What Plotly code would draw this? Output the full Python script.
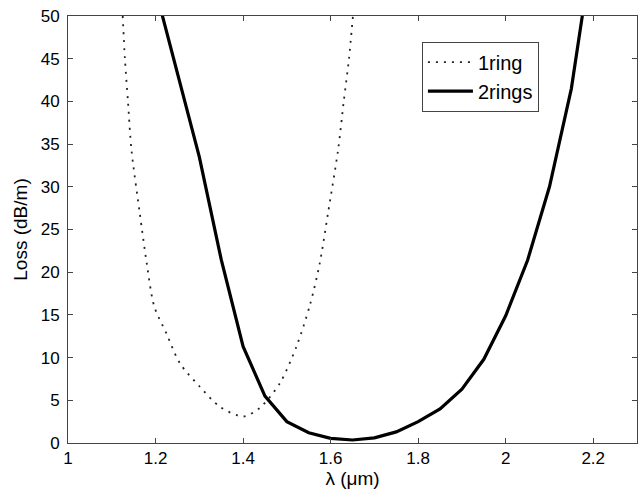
import plotly.graph_objects as go

# 1 ring (dotted)
x_1ring = [1.125, 1.130, 1.137, 1.145, 1.164, 1.180, 1.197, 1.225, 1.256, 1.301,
           1.347, 1.400, 1.438, 1.484, 1.522, 1.553, 1.575, 1.594, 1.617, 1.630,
           1.642, 1.651]
y_1ring = [50, 45, 40, 34.3, 26.9, 21, 16, 12.8, 9.3, 6.6,
           4.25, 3.1, 4.1, 7.0, 11.3, 16.2, 21, 26.9, 34.3, 40,
           45, 50]

# 2 rings (solid)
x_2rings = [1.20, 1.25, 1.30, 1.35, 1.40, 1.45, 1.50, 1.55, 1.60, 1.65, 1.70,
            1.75, 1.80, 1.85, 1.90, 1.95, 2.00, 2.05, 2.10, 2.15, 2.20]
y_2rings = [53.1, 43.3, 33.5, 21.5, 11.3, 5.5, 2.5, 1.2, 0.55, 0.35, 0.6,
            1.3, 2.5, 4.0, 6.3, 9.8, 14.9, 21.4, 30.0, 41.5, 58.5]

x_ticks = [1, 1.2, 1.4, 1.6, 1.8, 2, 2.2]
x_ticklabels = ["1", "1.2", "1.4", "1.6", "1.8", "2", "2.2"]
y_ticks = [0, 5, 10, 15, 20, 25, 30, 35, 40, 45, 50]

FONT = "Liberation Sans, Arial, Helvetica, sans-serif"

fig = go.Figure()
fig.add_trace(go.Scatter(
    x=x_1ring, y=y_1ring, mode="lines", name="1ring",
    line=dict(color="#222222", width=1.8, dash="2px,6px", shape="spline", smoothing=0.8),
))
fig.add_trace(go.Scatter(
    x=x_2rings, y=y_2rings, mode="lines", name="2rings",
    line=dict(color="black", width=3.2),
))

axis_common = dict(
    showgrid=False, zeroline=False, showline=True, linecolor="#444444", linewidth=1,
    mirror="ticks", ticks="inside", ticklen=5, tickcolor="#444444",
    tickfont=dict(family=FONT, size=17, color="black"),
    automargin=False,
)

fig.update_layout(
    width=641, height=490,
    margin=dict(l=68, r=4, t=16, b=47),
    plot_bgcolor="white", paper_bgcolor="white",
    showlegend=True,
    legend=dict(
        x=0.622, y=0.94, xanchor="left", yanchor="top",
        bgcolor="white", bordercolor="#444444", borderwidth=1,
        font=dict(family=FONT, size=20, color="black"),
        tracegroupgap=0, itemwidth=45,
    ),
    xaxis=dict(
        range=[1, 2.3], tickvals=x_ticks, ticktext=x_ticklabels,
        title=dict(text="λ (μm)", standoff=0,
                   font=dict(family=FONT, size=19, color="black")),
        **axis_common,
    ),
    yaxis=dict(
        range=[0, 50], tickvals=y_ticks, ticklabelstandoff=4,
        title=dict(text="Loss (dB/m)", standoff=8,
                   font=dict(family=FONT, size=19, color="black")),
        **axis_common,
    ),
)

fig.write_html("out.html", config={"displayModeBar": False},
               post_script="document.body.style.margin='0';document.body.style.overflow='hidden';")
